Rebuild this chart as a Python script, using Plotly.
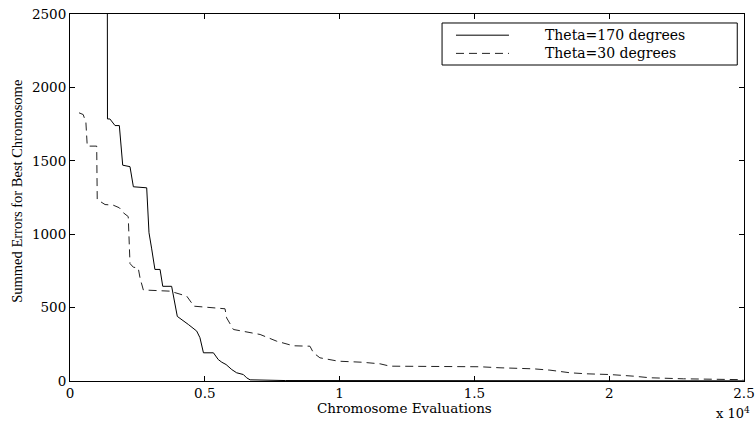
import plotly.graph_objects as go

# Theta = 170 degrees (solid)
solid_x = [1380, 1390, 1480, 1670, 1830, 1955, 2225, 2350, 2845, 2870, 2930, 3030, 3090, 3150,
           3340, 3440, 3770, 3980, 4390, 4700, 4820, 4950, 5320, 5500, 5630, 5790, 6000, 6180,
           6430, 6550, 6680, 8000, 25000]
solid_y = [3500, 1785, 1785, 1740, 1740, 1470, 1460, 1323, 1316, 1200, 1010, 900, 810, 760,
           760, 645, 645, 440, 385, 340, 295, 192, 192, 146, 128, 112, 78, 56,
           44, 22, 8, 3, 1]

# Theta = 30 degrees (dashed)
dash_x = [334, 490, 590, 640, 990, 1010, 1300, 1600, 1830, 1980, 2160, 2225, 2350, 2530, 2600,
          2720, 3710, 4330, 4510, 4570, 5750, 5810, 6060, 7050, 7670, 8280, 8900, 9030, 9270,
          9580, 9950, 10820, 11500, 11870, 15210, 15950, 17190, 17800, 18550, 19160, 20030,
          20900, 21510, 22750, 24970]
dash_y = [1827, 1815, 1760, 1600, 1600, 1236, 1202, 1198, 1180, 1146, 1120, 800, 775, 770, 700,
          620, 612, 578, 532, 510, 492, 430, 351, 317, 271, 240, 237, 192, 158,
          146, 135, 128, 117, 101, 97, 90, 83, 74, 56, 49, 44,
          33, 22, 15, 9]

x_tickvals = [0, 5000, 10000, 15000, 20000, 25000]
x_ticktext = ["0", "0.5", "1", "1.5", "2", "2.5"]
y_tickvals = [0, 500, 1000, 1500, 2000, 2500]
y_ticktext = ["0", "500", "1000", "1500", "2000", "2500"]

legend_names = ["Theta=170 degrees", "Theta=30 degrees"]

TICKFONT = dict(family="DejaVu Serif", size=13.5, color="black")

fig = go.Figure()
fig.add_trace(go.Scatter(x=solid_x, y=solid_y, mode="lines", name=legend_names[0],
                         line=dict(color="black", width=1), showlegend=False))
fig.add_trace(go.Scatter(x=dash_x, y=dash_y, mode="lines", name=legend_names[1],
                         line=dict(color="#222222", width=1, dash="8px,5px"), showlegend=False))

fig.update_layout(
    width=756, height=423,
    margin=dict(l=70, r=12, t=14, b=41.5, autoexpand=False),
    paper_bgcolor="white", plot_bgcolor="white",
    xaxis=dict(range=[0, 25000], tickvals=x_tickvals, ticktext=x_ticktext,
               ticks="inside", ticklen=5, tickcolor="black", showline=True,
               linecolor="black", linewidth=1, mirror="ticks", showgrid=False,
               zeroline=False, tickfont=TICKFONT, automargin=False),
    yaxis=dict(range=[0, 2500], tickvals=y_tickvals, ticktext=y_ticktext,
               ticks="inside", ticklen=5, tickcolor="black", showline=True,
               linecolor="black", linewidth=1, mirror="ticks", showgrid=False,
               zeroline=False, tickfont=TICKFONT, automargin=False),
)

# axis titles and exponent
fig.add_annotation(text="Chromosome Evaluations", xref="paper", yref="paper",
                   x=0.497, y=-0.074, xanchor="center", yanchor="middle", showarrow=False,
                   font=dict(family="DejaVu Serif", size=13.5, color="black"))
fig.add_annotation(text="Summed Errors for Best Chromosome", xref="paper", yref="paper",
                   x=-0.0786, y=0.5156, xanchor="center", yanchor="middle",
                   textangle=-90, showarrow=False,
                   font=dict(family="Liberation Serif", size=14.5, color="black"))
fig.add_annotation(text="x 10<sup>4</sup>", xref="paper", yref="paper",
                   x=0.984, y=-0.088, xanchor="center", yanchor="middle", showarrow=False,
                   font=dict(family="DejaVu Serif", size=13, color="black"))

# legend box (matlab style)
row_y = [0.9423, 0.8927]
fig.add_shape(type="rect", xref="paper", yref="paper", x0=0.552, x1=0.990, y0=0.861, y1=0.9755,
              line=dict(color="black", width=1), fillcolor="white", layer="above")
fig.add_shape(type="line", xref="paper", yref="paper", x0=0.5727, x1=0.6513, y0=row_y[0], y1=row_y[0],
              line=dict(color="black", width=1), layer="above")
fig.add_shape(type="line", xref="paper", yref="paper", x0=0.5727, x1=0.6513, y0=row_y[1], y1=row_y[1],
              line=dict(color="#222222", width=1, dash="8px,5px"), layer="above")
fig.add_annotation(text="<br>".join(legend_names), xref="paper", yref="paper",
                   x=0.7018, y=(row_y[0] + row_y[1]) / 2, xanchor="left", yanchor="middle",
                   align="left", showarrow=False,
                   font=dict(family="DejaVu Serif", size=14, color="black"))

fig.write_html("out.html")
